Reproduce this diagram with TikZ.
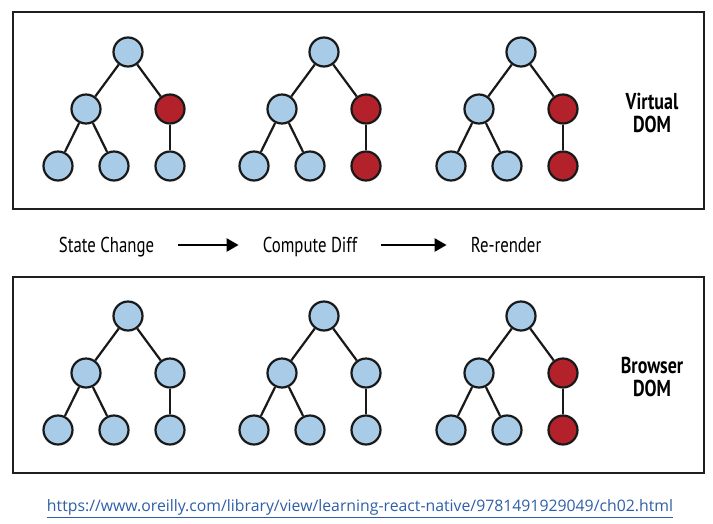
\documentclass[tikz,border=0pt]{standalone}
\usepackage{fontspec}
\usetikzlibrary{arrows.meta}
\newfontfamily\condfont[FakeStretch=0.78]{PT Sans}
\newfontfamily\urlfont{Open Sans}
\definecolor{nodeblue}{HTML}{A8CCE7}
\definecolor{nodered}{HTML}{B3222A}
\definecolor{linkblue}{HTML}{2E5FA8}
\tikzset{
  dn/.style={circle,draw=black!90,line width=2.2pt,minimum size=29pt,inner sep=0pt},
  edge/.style={line width=2.2pt,draw=black!90},
  frame/.style={line width=2.4pt,draw=black!88},
  steplabel/.style={font=\condfont\fontsize{21.5}{23}\selectfont,inner sep=0pt,anchor=base},
  domlabel/.style={font=\condfont\bfseries\fontsize{23}{23}\selectfont,align=center,inner sep=0pt},
  flowarrow/.style={line width=2.4pt,-{Triangle[length=12pt,width=13pt]},shorten <=24pt,shorten >=24pt},
}
\newcommand{\domtree}[5]{%
  \node[dn,fill=nodeblue] (#1r) at (#2,#3) {};
  \node[dn,fill=nodeblue] (#1a) at (#2-42,#3+57) {};
  \node[dn,fill=#4] (#1b) at (#2+42,#3+57) {};
  \node[dn,fill=nodeblue] (#1c) at (#2-70,#3+114) {};
  \node[dn,fill=nodeblue] (#1d) at (#2-14,#3+114) {};
  \node[dn,fill=#5] (#1e) at (#2+42,#3+114) {};
  \draw[edge] (#1r) -- (#1a);
  \draw[edge] (#1r) -- (#1b);
  \draw[edge] (#1a) -- (#1c);
  \draw[edge] (#1a) -- (#1d);
  \draw[edge] (#1b) -- (#1e);
}
\begin{document}
\begin{tikzpicture}[x=1pt,y=-1pt]
\path[use as bounding box,fill=white] (0,0) rectangle (713,523);
\draw[frame] (13,12) rectangle (704,209);
\draw[frame] (13,277) rectangle (704,473);
\domtree{va}{128}{52}{nodered}{nodeblue}
\domtree{vb}{324}{52}{nodered}{nodered}
\domtree{vc}{521}{52}{nodered}{nodered}
\domtree{ba}{128}{316}{nodeblue}{nodeblue}
\domtree{bb}{324}{316}{nodeblue}{nodeblue}
\domtree{bc}{521}{316}{nodered}{nodered}
\node[domlabel] (vlabel) at (652,113) {Virtual\\DOM};
\node[domlabel] (blabel) at (652,377) {Browser\\DOM};
\node[steplabel] (sc) at (106.5,252) {State Change};
\node[steplabel] (cd) at (310,252) {Compute Diff};
\node[steplabel] (rr) at (506,252) {Re-render};
\draw[flowarrow] ([yshift=7pt]sc.base east) -- ([yshift=7pt]cd.base west);
\draw[flowarrow] ([yshift=7pt]cd.base east) -- ([yshift=7pt]rr.base west);
\node[inner sep=0pt,text=linkblue] (url) at (360,509) {\resizebox{626pt}{!}{\urlfont\fontsize{14}{16}\selectfont\underline{https://www.oreilly.com/library/view/learning-react-native/9781491929049/ch02.html}}};
\end{tikzpicture}
\end{document}
